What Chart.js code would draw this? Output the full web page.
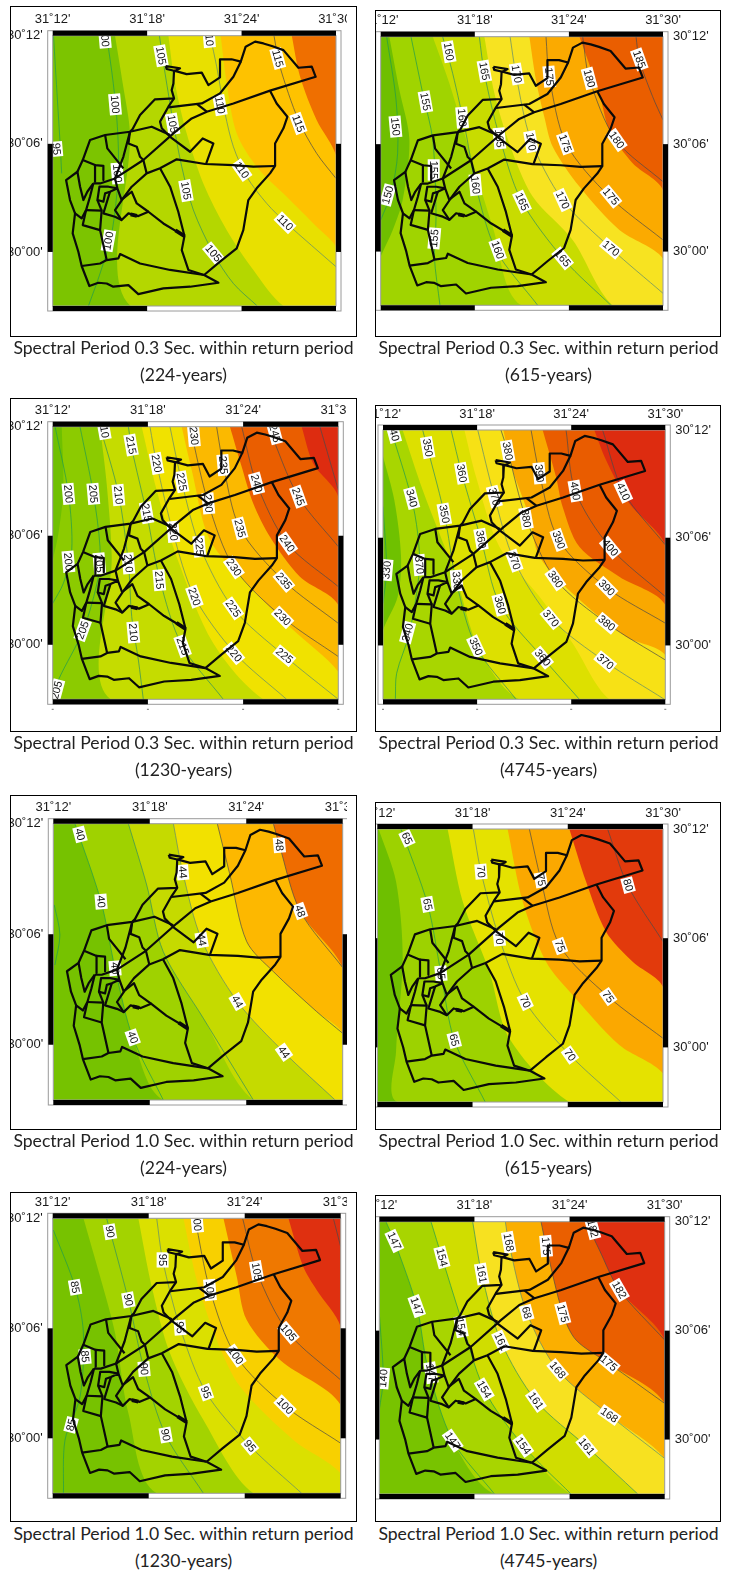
<!DOCTYPE html>
<html>
<head>
<meta charset="utf-8">
<title>Spectral period maps</title>
<script src="https://cdn.jsdelivr.net/npm/chart.js@4/dist/chart.umd.min.js"></script>
<style>
    html, body { margin: 0; padding: 0; background: #fff; }
    body { position: relative; width: 731px; height: 1572px; overflow: hidden; }
    .kotak { position: absolute; border: 1px solid #000; box-sizing: border-box; }
    canvas { position: absolute; filter: blur(0.45px); }
    .judul { position: absolute; width: 365px; text-align: center; font-family: Lato, sans-serif; font-size: 17.6px; color: #222; line-height: 20px; white-space: nowrap; }
</style>
</head>
<body>
<script>
// -------- AXIS --------
// longitude and latitude are minutes: x = minutes past 31 deg, y = minutes past 30 deg
const lonTicks = [12, 18, 24, 30];
const lonTickLabels = ["31˚12'", "31˚18'", "31˚24'", "31˚30'"];
const latTicks = [12, 6, 0];
const latTickLabels = ["30˚12'", "30˚06'", "30˚00'"];
const lonRange = [12, 30];
const latRange = [-3, 12];

// -------- DISTRICT OUTLINES (same for every map) --------
const districtLines = [
    [[19.18, 10.32], [20.09, 10.19], [19.77, 10.04], [19.24, 10.15], [19.18, 10.32]],
    [[19.71, 10.06], [20.51, 9.87], [21.47, 9.95], [21.89, 9.26], [22.63, 9.69], [22.63, 10.69], [23.37, 10.69], [23.95, 10.56], [24.26, 11.39], [24.86, 11.67], [25.39, 11.57], [25.92, 11.43], [26.66, 11.2], [27.61, 10.22], [28.46, 10.28], [28.71, 9.72], [25.81, 8.95], [23.48, 8.24], [21.79, 7.78], [20.83, 7.41], [19.67, 6.58], [17.76, 5.1], [15.96, 4.08], [15.01, 3.8], [14.58, 3.8]],
    [[19.71, 10.06], [19.67, 9.35], [19.56, 8.98], [19.71, 8.52], [18.5, 8.47], [17.55, 7.6], [17.08, 6.82], [16.91, 6.67]],
    [[19.71, 8.52], [19.35, 8.06], [18.82, 7.23], [18.93, 6.86], [19.46, 6.39], [20.73, 5.56], [21.53, 6.3], [22.21, 6.02], [21.74, 4.88]],
    [[23.95, 10.56], [23.48, 9.72], [22.63, 8.8], [21.47, 8.24], [19.35, 8.02]],
    [[21.15, 8.21], [21.79, 7.78]],
    [[25.81, 8.95], [26.23, 8.24], [26.91, 7.5], [26.66, 6.86], [26.13, 6.02], [26.13, 4.77], [25.81, 4.36], [24.96, 3.53], [24.43, 2.88], [24.11, 1.21], [23.69, 0.2], [22.63, -0.54], [21.62, -1.28]],
    [[26.13, 4.77], [24.75, 4.73], [23.48, 4.82], [21.68, 4.88], [19.88, 5.14], [18.82, 4.64], [17.97, 4.36], [17.02, 3.62], [16.45, 2.95], [15.96, 2.32], [16.38, 1.77], [16.81, 2.14], [17.44, 1.99], [18.08, 2.23], [19.03, 1.58], [20.37, 0.88]],
    [[16.45, 2.95], [17.02, 3.34], [17.34, 2.69], [18.08, 2.23]],
    [[18.82, 4.64], [19.46, 3.62], [19.98, 2.23], [20.37, 0.88], [20.2, 0.1], [20.62, -1.0], [21.62, -1.28]],
    [[21.62, -1.28], [22.53, -1.71], [20.73, -1.93], [19.03, -2.02], [17.44, -2.34], [16.81, -1.84], [15.85, -1.93], [15.43, -1.75], [14.9, -1.71], [14.33, -1.89], [13.84, -0.78], [13.63, 0.01], [13.27, 1.03], [13.42, 2.14], [13.84, 1.86], [14.12, 2.32], [14.37, 3.06], [14.58, 3.8]],
    [[13.84, -0.78], [15.01, -0.64], [15.43, -0.45], [16.17, -0.36], [16.28, -0.12], [17.55, -0.64], [19.46, -1.0], [21.62, -1.28]],
    [[13.42, 2.14], [13.1, 2.88], [12.85, 3.99], [13.57, 4.45], [13.74, 3.62], [13.95, 2.88], [14.2, 3.34], [14.58, 3.8]],
    [[13.57, 4.45], [13.91, 5.1], [14.37, 6.21], [15.33, 6.49], [16.91, 6.67], [18.29, 6.95], [19.46, 6.49]],
    [[13.91, 5.1], [14.69, 4.82], [15.22, 4.78], [15.22, 3.99]],
    [[14.69, 4.82], [14.69, 3.9]],
    [[15.33, 6.49], [15.47, 5.75], [16.49, 4.64]],
    [[16.91, 6.67], [16.49, 5.28], [15.96, 4.08]],
    [[16.91, 6.67], [16.81, 6.02], [17.34, 5.84], [17.55, 5.28], [17.76, 5.1], [17.97, 4.36]],
    [[15.96, 4.08], [16.11, 3.53], [15.54, 3.62], [14.97, 3.62], [14.84, 2.88], [15.22, 2.79], [15.33, 3.25], [15.64, 3.34], [16.11, 3.53], [16.38, 2.88]],
    [[14.12, 2.32], [15.11, 2.29], [15.01, 1.21], [15.43, -0.45]],
    [[14.12, 2.32], [13.91, 1.49], [15.01, 1.21]],
    [[14.84, 2.88], [15.11, 2.29]],
    [[15.64, 3.34], [15.22, 2.14], [15.96, 1.95], [16.38, 1.77]]
];
const districtThick = [
    [[16.95, 2.08], [17.35, 2.0]],
    [[19.8, 1.2], [20.37, 0.88]]
];

// -------- MAP 1: 0.3 Sec, 224 years --------
const p1BandColors = ["#7cc400", "#b4d700", "#e8e000", "#fec200", "#ef6f00"];
const p1BandEdges = [
    [[15.96, 12], [16.45, 9.35], [16.91, 6.58], [16.95, -3]],
    [[19.35, 12], [19.77, 9.35], [20.51, 6.58], [21.57, 3.8], [23.06, 1.21], [24.75, -1.0], [26.66, -3]],
    [[22.67, 12], [23.06, 9.35], [23.69, 6.58], [24.96, 4.73], [26.87, 3.06], [28.77, 1.4], [30, 0.29]],
    [[27.19, 12], [27.72, 9.72], [28.77, 7.32], [30, 5.38]]
];
const p1Lines = [
    [[12.05, 12], [12.3, 8.43], [12.47, 6.02], [12.57, 4.36]],
    [[15.43, 12], [15.85, 9.35], [16.11, 6.95], [16.17, 4.36], [15.75, 1.03], [15.01, -1.19], [14.27, -3]],
    [[18.78, 12], [19.14, 9.91], [19.67, 7.13], [20.2, 4.73], [20.94, 2.32], [22.21, -0.08], [23.48, -1.75], [25.0, -3]],
    [[22.0, 12], [22.42, 10.28], [22.95, 7.69], [23.48, 5.84], [24.33, 4.17], [25.6, 2.69], [26.87, 1.58], [30, -0.82]],
    [[26.06, 12], [26.44, 10.28], [27.61, 7.32], [28.77, 5.47], [30, 4.08]]
];
const p1LineColors = ["#1f9c4c", "#1f9c4c", "#2f8f5e", "#5c8a70", "#4a4a4a"];
const p1TagText = ["00", "10", "105", "115", "100", "110", "105", "115", "95", "110", "100", "105", "110", "100", "105"];
const p1TagPos = [[15.33, 11.72], [21.95, 11.76], [18.88, 10.89], [26.3, 10.74], [15.96, 8.19], [22.63, 8.15], [19.62, 7.1], [27.61, 7.13], [12.25, 5.71], [24.01, 4.54], [16.11, 4.36], [20.47, 3.4], [26.76, 1.62], [15.54, 0.62], [22.21, -0.08]];
const p1TagAngle = [85, 85, 80, 75, 85, 80, 80, 70, 85, 55, 85, 80, 45, -80, 50];

// -------- MAP 2: 0.3 Sec, 615 years --------
const p2BandColors = ["#6fbf00", "#a0d400", "#c8dc00", "#f7e321", "#fbaa00", "#ea5e00"];
const p2BandEdges = [
    [[12.55, 12], [13.19, 9.02], [13.83, 6.23], [13.4, 2.88], [12.77, 1.21], [12, -0.28]],
    [[15.32, 12], [16.38, 9.39], [17.65, 5.67], [19.14, 1.39], [20.95, -3]],
    [[18.61, 12], [19.25, 8.84], [20.2, 6.04], [21.69, 3.07], [24.24, 0.65], [26.79, -3]],
    [[21.48, 12], [21.9, 9.58], [22.43, 7.53], [22.97, 5.86], [24.67, 3.63], [27.22, 1.21], [30, -0.38]],
    [[24.67, 12], [25.94, 8.84], [26.58, 6.79], [28.07, 4.93], [30, 3.44]]
];
const p2Lines = [
    [[12.38, 12], [12.98, 8.46], [13.08, 5.49], [12.66, 3.25], [12, 1.76]],
    [[13.93, 12], [14.68, 8.84], [15.32, 6.23], [15.53, 1.95], [15.42, -0.28], [15.78, -3]],
    [[15.95, 12], [16.59, 9.95], [17.44, 6.6], [18.08, 3.63], [19.35, 0.09], [22.01, -3]],
    [[18.29, 12], [18.61, 9.95], [19.57, 6.42], [20.95, 2.88], [23.71, -0.47], [26.68, -3]],
    [[20.25, 12], [20.63, 9.86], [21.58, 6.23], [23.6, 2.88], [26.68, 0.18], [30, -2.33]],
    [[22.54, 12], [22.75, 9.77], [23.82, 6.04], [26.58, 3.07], [30, 0.65]],
    [[24.88, 12], [25.3, 9.67], [27.0, 6.23], [30, 3.9]],
    [[28.28, 12], [28.49, 10.7], [29.34, 8.65], [30, 7.35]]
];
const p2LineColors = ["#1f9c4c", "#1f9c4c", "#2f8f5e", "#2f8f5e", "#5c8a70", "#4a4a4a", "#4a4a4a", "#4a4a4a"];
const p2TagText = ["160", "165", "170", "175", "180", "185", "155", "160", "150", "165", "170", "175", "180", "155", "160", "150", "165", "170", "175", "155", "160", "165", "170"];
const p2TagPos = [[16.34, 11.16], [18.61, 10.08], [20.67, 9.92], [22.75, 9.77], [25.3, 9.67], [28.49, 10.73], [14.85, 8.37], [17.19, 7.48], [12.94, 6.98], [19.57, 6.32], [21.58, 6.14], [23.77, 6.04], [27.05, 6.23], [15.38, 4.56], [18.04, 3.72], [12.45, 3.16], [21.01, 2.79], [23.6, 2.88], [26.68, 3.07], [15.42, 0.74], [19.46, 0.09], [23.6, -0.38], [26.68, 0.18]];
const p2TagAngle = [80, 80, 80, 85, 75, 70, 80, 85, 85, 85, 80, 70, 55, 90, 85, -75, 65, 65, 50, -85, 70, 50, 40];

// -------- MAP 3: 0.3 Sec, 1230 years --------
const p3BandColors = ["#6fc000", "#8ccb00", "#c5dc00", "#f0e200", "#fbb900", "#ea5e00", "#dd2c10"];
const p3BandEdges = [
    [[12.57, 12], [12.67, 8.52], [12.36, 6.13], [12, 4.66]],
    [[14.98, 12], [15.4, 8.88], [15.72, 4.85], [15.65, -3]],
    [[17.61, 12], [18.55, 8.52], [19.81, 4.85], [22.12, 0.08], [25.27, -3]],
    [[20.13, 12], [20.76, 9.62], [21.91, 5.76], [24.43, 3.2], [27.16, 0.81], [30, -1.48]],
    [[23.17, 12], [23.91, 9.8], [24.64, 7.78], [25.69, 5.95], [27.58, 3.75], [30, 2.19]],
    [[27.69, 12], [28.42, 9.98], [30, 8.15]]
];
const p3Lines = [
    [[12.15, 12], [12.99, 8.33], [13.2, 5.21], [12.67, 3.38], [12, 2.28]],
    [[13.72, 12], [14.56, 8.33], [14.98, 5.4], [14.88, 3.75], [13.93, 0.81], [12.36, -1.94], [12.04, -3]],
    [[14.98, 12], [16.14, 8.33], [16.77, 4.48], [16.98, 1.55], [17.4, -0.84], [17.71, -3]],
    [[16.77, 12], [16.98, 10.81], [17.92, 7.23], [18.76, 3.56], [20.13, -0.01], [22.75, -3]],
    [[18.13, 12], [18.55, 9.98], [19.6, 6.13], [20.93, 2.65], [23.49, -0.47], [26.74, -3]],
    [[19.39, 12], [20.13, 8.97], [21.28, 5.4], [23.38, 2.0], [26.6, -0.6], [30, -3]],
    [[20.65, 12], [21.81, 7.78], [23.42, 4.26], [26.49, 1.51], [30, -0.65]],
    [[22.33, 12], [22.75, 9.89], [23.8, 6.41], [26.57, 3.51], [30, 1.18]],
    [[23.91, 12], [24.85, 8.88], [26.78, 5.58], [30, 3.2]],
    [[25.59, 12], [27.48, 8.15], [30, 5.4]],
    [[28.84, 12], [30, 8.52]]
];
const p3LineColors = ["#1f9c4c", "#1f9c4c", "#2f8f5e", "#2f8f5e", "#5c8a70", "#5c8a70", "#4a4a4a", "#4a4a4a", "#4a4a4a", "#4a4a4a", "#4a4a4a"];
const p3TagText = ["10", "215", "230", "245", "220", "235", "225", "240", "200", "205", "210", "245", "215", "230", "235", "220", "225", "240", "200", "205", "210", "230", "215", "235", "220", "225", "230", "210", "205", "215", "220", "225", "205"];
const p3TagPos = [[15.26, 11.72], [16.94, 10.99], [20.9, 11.5], [26.0, 11.63], [18.55, 9.98], [22.75, 9.89], [20.13, 8.97], [24.85, 8.88], [12.99, 8.3], [14.56, 8.3], [16.14, 8.24], [27.48, 8.15], [17.92, 7.27], [21.81, 7.78], [23.8, 6.41], [19.6, 6.22], [21.24, 5.4], [26.78, 5.58], [12.99, 4.57], [14.94, 4.48], [16.77, 4.48], [23.42, 4.26], [18.72, 3.56], [26.57, 3.51], [20.93, 2.65], [23.38, 2.0], [26.49, 1.51], [17.08, 0.68], [13.89, 0.81], [20.19, -0.07], [23.42, -0.47], [26.6, -0.6], [12.25, -2.49]];
const p3TagAngle = [80, 80, 85, 75, 80, 85, 80, 75, 85, 85, 85, 70, 80, 85, 75, 85, 85, 55, 85, 85, 85, 55, 85, 50, 70, 55, 45, 85, -70, 70, 50, 40, -75];

// -------- MAP 4: 0.3 Sec, 4745 years --------
const p4BandColors = ["#6fc100", "#a8d600", "#dde000", "#f7e115", "#f9a800", "#e95c00", "#dd2c10"];
const p4BandEdges = [
    [[12, 10.52], [12.72, 8.1], [13.15, 4.95], [12.94, 2.72], [12, 0.86]],
    [[13.25, 12], [14.53, 8.66], [16.65, 3.83], [18.14, -0.25], [20.69, -3]],
    [[17.19, 12], [17.93, 9.4], [19.42, 5.5], [21.97, 2.72], [24.09, 0.12], [26.43, -3]],
    [[19.67, 12], [20.27, 9.77], [21.33, 7.17], [21.97, 4.95], [24.3, 2.72], [27.49, 0.49], [30, -0.53]],
    [[22.18, 12], [23.03, 9.4], [23.45, 7.73], [24.52, 5.5], [27.07, 3.83], [30, 2.26]],
    [[25.47, 12], [26.22, 10.33], [27.7, 7.92], [30, 5.6]]
];
const p4Lines = [
    [[12, 7.73], [12.23, 4.2], [12, 2.35]],
    [[12.51, 12], [13.79, 8.29], [14.21, 6.25], [14.32, 4.2], [13.68, 0.68], [12.87, -1.55], [12.79, -3]],
    [[14.53, 12], [15.91, 7.32], [16.65, 3.65], [17.93, -0.06], [20.48, -3]],
    [[16.34, 12], [17.02, 9.59], [18.25, 5.91], [19.46, 2.26], [22.18, -0.68], [24.52, -3]],
    [[18.04, 12], [19.1, 8.29], [20.37, 4.72], [22.71, 1.51], [26.17, -0.9], [29.94, -3]],
    [[19.52, 12], [19.95, 10.83], [21.12, 7.08], [22.99, 3.69], [26.26, 1.24], [30, -0.81]],
    [[21.44, 12], [21.97, 9.59], [23.2, 5.88], [26.26, 3.22], [30, 1.24]],
    [[23.67, 12], [24.26, 8.6], [26.49, 5.45], [30, 2.72]],
    [[26, 12], [27.32, 8.57], [30, 5.6]]
];
const p4LineColors = ["#1f9c4c", "#1f9c4c", "#2f8f5e", "#2f8f5e", "#5c8a70", "#4a4a4a", "#4a4a4a", "#4a4a4a", "#4a4a4a"];
const p4TagText = ["40", "350", "380", "360", "390", "400", "410", "340", "370", "350", "380", "360", "390", "400", "370", "370", "330", "330", "380", "390", "360", "370", "380", "340", "350", "360", "370"];
const p4TagPos = [[12.72, 11.72], [14.85, 11.02], [19.95, 10.83], [17.02, 9.59], [21.97, 9.59], [24.26, 8.6], [27.32, 8.57], [13.83, 8.2], [19.1, 8.29], [15.91, 7.32], [21.12, 7.08], [18.25, 5.91], [23.2, 5.88], [26.49, 5.45], [20.37, 4.72], [14.32, 4.48], [12.23, 4.2], [16.7, 3.61], [22.99, 3.69], [26.26, 3.22], [19.46, 2.26], [22.71, 1.51], [26.26, 1.24], [13.57, 0.72], [17.93, -0.06], [22.18, -0.68], [26.17, -0.9]];
const p4TagAngle = [75, 80, 80, 80, 85, 80, 65, 75, 75, 80, 80, 80, 70, 50, 70, 85, -85, 85, 55, 45, 75, 50, 40, -75, 65, 50, 40];

// -------- MAP 5: 1.0 Sec, 224 years --------
const p5BandColors = ["#76c200", "#9fd200", "#c5da00", "#f2e100", "#fdb800", "#ef6c00"];
const p5BandEdges = [
    [[13.35, 12], [14.97, 7.77], [15.84, 4.15], [16.94, 0.4], [18.84, -3]],
    [[16.67, 12], [17.81, 8.67], [18.84, 5.05], [21.33, 1.44], [24.44, -3]],
    [[19.47, 12], [20.05, 9.36], [21.23, 5.69], [23.45, 2.34], [26.35, -0.41], [29.53, -3]],
    [[22.2, 12], [22.99, 9.21], [24.03, 5.6], [25.69, 3.97], [28.38, 1.8], [30, 0.62]],
    [[25.69, 12], [26.06, 10.84], [27.35, 7.26], [30, 4.19]]
];
const p5LeftLine = [[12.06, 7.59], [12.41, 5.96], [12.1, 4.33]];
const p5Lines = [p5LeftLine, ...p5BandEdges];
const p5LineColors = ["#1f9c4c", "#1f9c4c", "#2f8f5e", "#5c8a70", "#4a4a4a", "#4a4a4a"];
const p5TagText = ["40", "48", "44", "40", "48", "44", "40", "44", "40", "44"];
const p5TagPos = [[13.66, 11.42], [26.06, 10.84], [20.05, 9.36], [14.97, 7.77], [27.35, 7.26], [21.23, 5.69], [15.84, 4.15], [23.45, 2.34], [16.94, 0.4], [26.35, -0.41]];
const p5TagAngle = [75, 85, 85, 85, 70, 80, 85, 60, 70, 55];

// -------- MAP 6: 1.0 Sec, 615 years --------
const p6BandColors = ["#6ebf00", "#9dd200", "#e5e200", "#fba800", "#e23a0c"];
const p6BandEdges = [
    [[12.08, 12], [13.18, 9.11], [13.6, 4.89], [13.18, -0.24], [13.28, -3]],
    [[16.43, 12], [17.38, 8.01], [19.06, 4.16], [20.32, 0.5], [24.1, -3]],
    [[20.21, 12], [21.16, 8.01], [22.63, 4.71], [24.31, 2.88], [27.25, 0.13], [30, -1.43]],
    [[24.1, 12], [25.15, 9.11], [26.41, 6.36], [28.09, 4.71], [30, 3.33]]
];
const p6Lines = [
    [[13.49, 12], [15.17, 7.86], [16.01, 4.07], [16.85, 0.4], [18.8, -3]],
    [[18.05, 12], [18.53, 9.66], [19.69, 5.99], [21.32, 2.51], [24.14, -0.42], [27.35, -3]],
    [[21.58, 12], [22.31, 9.2], [23.51, 5.57], [26.55, 2.79], [30, 0.5]],
    [[26.51, 12], [27.77, 8.92], [30, 5.81]]
];
const p6LineColors = ["#1f9c4c", "#5c8a70", "#4a4a4a", "#4a4a4a"];
const p6TagText = ["65", "70", "75", "80", "65", "70", "75", "65", "70", "75", "65", "70"];
const p6TagPos = [[13.87, 11.49], [18.53, 9.66], [22.31, 9.2], [27.8, 8.92], [15.17, 7.86], [19.69, 5.99], [23.51, 5.57], [16.01, 4.07], [21.32, 2.51], [26.55, 2.79], [16.85, 0.4], [24.14, -0.42]];
const p6TagAngle = [65, 85, 80, 75, 80, 85, 70, 85, 65, 55, 75, 55];

// -------- MAP 7: 1.0 Sec, 1230 years --------
const p7BandColors = ["#77c200", "#a3d300", "#dbe000", "#f8d000", "#ef7800", "#df3010"];
const p7BandEdges = [
    [[13.92, 12], [14.96, 8.82], [15.9, 5.73], [16.73, 1.36], [18.5, -3]],
    [[17.35, 12], [18.19, 8.27], [19.33, 4.64], [21.42, 1.0], [24.54, -3]],
    [[20.17, 12], [21, 8.64], [22.25, 5.36], [23.71, 2.82], [27.04, -0.09], [30, -1.91]],
    [[22.67, 12], [23.5, 8.82], [24.12, 6.46], [26.21, 4.27], [30, 1.82]],
    [[26.73, 12], [27.66, 9.36], [28.5, 8.09], [30, 6.09]]
];
const p7Lines = [
    [[12.04, 11.36], [13.4, 8.24], [13.92, 5.73], [13.71, 2.27], [12.77, -0.09], [12.67, -3]],
    [[15.37, 12], [16.73, 7.55], [17.71, 3.78], [19.06, 0.18], [21.42, -3]],
    [[18.5, 12], [18.87, 9.73], [19.96, 6.04], [21.58, 2.51], [24.33, -0.42], [27.56, -3]],
    [[20.89, 12], [21.83, 8.09], [23.44, 4.51], [26.52, 1.76], [30, -0.27]],
    [[23.87, 12], [24.75, 9.09], [26.73, 5.76], [30, 3.18]],
    [[29.54, 12], [30, 10.45]]
];
const p7LineColors = ["#1f9c4c", "#2f8f5e", "#5c8a70", "#4a4a4a", "#4a4a4a", "#4a4a4a"];
const p7TagText = ["90", "00", "95", "105", "85", "90", "100", "95", "105", "100", "85", "90", "95", "100", "85", "90", "95"];
const p7TagPos = [[15.58, 11.27], [21.04, 11.64], [18.87, 9.73], [24.75, 9.09], [13.4, 8.24], [16.73, 7.55], [21.83, 8.09], [19.96, 6.04], [26.73, 5.76], [23.44, 4.51], [14.02, 4.46], [17.71, 3.78], [21.58, 2.51], [26.52, 1.76], [13.15, 0.73], [19.06, 0.18], [24.33, -0.42]];
const p7TagAngle = [80, 85, 90, 80, 80, 80, 85, 85, 50, 55, 85, 85, 70, 45, -75, 80, 50];

// -------- MAP 8: 1.0 Sec, 4745 years --------
const p8BandColors = ["#78c300", "#a8d500", "#d0dd00", "#f7e120", "#fbaf00", "#ea5f00", "#df3010"];
const p8BandEdges = [
    [[12.42, 12], [12.95, 10.94], [14.36, 7.35], [15.05, 4.01], [16.63, -0.06], [19.26, -3]],
    [[15.26, 12], [15.95, 10.04], [17.05, 6.95], [18.62, 2.76], [21.08, -0.34], [24.09, -3]],
    [[17.89, 12], [18.46, 9.12], [19.68, 5.39], [21.88, 2.14], [25.08, -0.39], [28.3, -3]],
    [[19.95, 12], [20.16, 10.86], [21.3, 6.99], [23.25, 3.83], [26.51, 1.35], [30, -1.04]],
    [[22.2, 12], [22.52, 10.66], [23.57, 6.95], [24.41, 5.48], [26.47, 4.2], [30, 1.99]],
    [[25.04, 12], [25.88, 10.44], [27.14, 8.24], [30, 5.48]]
];
const p8LeftLine = [[12, 6.95], [12.25, 3.37], [12, 1.63]];
const p8Lines = [p8LeftLine, ...p8BandEdges];
const p8LineColors = ["#1f9c4c", "#1f9c4c", "#1f9c4c", "#2f8f5e", "#5c8a70", "#4a4a4a", "#4a4a4a"];
const p8TagText = ["147", "154", "168", "175", "182", "161", "182", "147", "68", "175", "154", "161", "175", "168", "140", "154", "161", "168", "147", "154", "161", "147"];
const p8TagPos = [[12.95, 10.94], [15.95, 10.04], [20.16, 10.86], [22.52, 10.66], [25.46, 11.63], [18.46, 9.12], [27.14, 8.24], [14.36, 7.35], [21.3, 6.99], [23.57, 6.95], [17.15, 6.22], [19.68, 5.39], [26.47, 4.2], [23.25, 3.83], [12.25, 3.37], [18.62, 2.76], [21.88, 2.14], [26.51, 1.35], [16.63, -0.06], [21.08, -0.34], [25.08, -0.39], [15.26, 3.68]];
const p8TagAngle = [65, 75, 80, 85, 75, 80, 60, 70, 75, 75, 80, 65, 40, 50, -85, 60, 55, 35, 55, 55, 50, 80];

// -------- LAYOUT --------
// box = white frame, map = inner map rectangle, cap = y of caption lines
const panels = [
    { box: [10, 6, 356.5, 336.5], map: [52.7, 35.7, 336, 306], clipR: 347, side: "left", cap: [348, 375], line1: "0.3", line2: "(224-years)", colors: p1BandColors, edges: p1BandEdges, lines: p1Lines, lineColors: p1LineColors, tags: p1TagText, tagPos: p1TagPos, tagAngle: p1TagAngle },
    { box: [375, 10, 720.5, 336.5], map: [380.7, 36.7, 663, 305.3], clipR: 719, side: "right", cap: [348, 375], line1: "0.3", line2: "(615-years)", colors: p2BandColors, edges: p2BandEdges, lines: p2Lines, lineColors: p2LineColors, tags: p2TagText, tagPos: p2TagPos, tagAngle: p2TagAngle },
    { box: [10, 397.5, 356.5, 731.5], map: [52.7, 426.7, 338.3, 699.3], clipR: 347, side: "left", dots: true, cap: [743, 770], line1: "0.3", line2: "(1230-years)", colors: p3BandColors, edges: p3BandEdges, lines: p3Lines, lineColors: p3LineColors, tags: p3TagText, tagPos: p3TagPos, tagAngle: p3TagAngle },
    { box: [375, 405, 720.5, 731.5], map: [383, 430, 665.3, 699.3], clipR: 719, side: "right", dots: true, cap: [743, 770], line1: "0.3", line2: "(4745-years)", colors: p4BandColors, edges: p4BandEdges, lines: p4Lines, lineColors: p4LineColors, tags: p4TagText, tagPos: p4TagPos, tagAngle: p4TagAngle },
    { box: [10, 795, 356.5, 1129.5], map: [53.3, 823.7, 342.7, 1100], clipR: 347, side: "left", cap: [1141, 1168], line1: "1.0", line2: "(224-years)", colors: p5BandColors, edges: p5BandEdges, lines: p5Lines, lineColors: p5LineColors, tags: p5TagText, tagPos: p5TagPos, tagAngle: p5TagAngle },
    { box: [375, 802, 720.5, 1129.5], map: [377.3, 829, 663, 1102], clipR: 719, side: "right", cap: [1141, 1168], line1: "1.0", line2: "(615-years)", colors: p6BandColors, edges: p6BandEdges, lines: p6Lines, lineColors: p6LineColors, tags: p6TagText, tagPos: p6TagPos, tagAngle: p6TagAngle },
    { box: [10, 1191.5, 356.5, 1521.5], map: [52.7, 1218.3, 340.7, 1493.3], clipR: 347, side: "left", cap: [1534, 1561], line1: "1.0", line2: "(1230-years)", colors: p7BandColors, edges: p7BandEdges, lines: p7Lines, lineColors: p7LineColors, tags: p7TagText, tagPos: p7TagPos, tagAngle: p7TagAngle },
    { box: [375, 1195, 720.5, 1521.5], map: [379.3, 1221.7, 664.7, 1494], clipR: 719, side: "right", cap: [1534, 1561], line1: "1.0", line2: "(4745-years)", colors: p8BandColors, edges: p8BandEdges, lines: p8Lines, lineColors: p8LineColors, tags: p8TagText, tagPos: p8TagPos, tagAngle: p8TagAngle }
];

// -------- HELPERS --------
function toXY(list) {
    return list.map(p => ({ x: p[0], y: p[1] }));
}

// region east of a band edge, closed well outside the map so the clip trims it
function eastOf(edge) {
    const last = edge[edge.length - 1];
    const shape = edge.slice();
    if (last[0] <= 12) shape.push([9, -7]);
    shape.push([34, -7], [34, 16], [edge[0][0], 16]);
    return shape;
}

// map number labels, drawn between the contours and the district lines
const tagPlugin = {
    id: "tagPlugin",
    afterDatasetDraw(chart, args) {
        const ds = chart.data.datasets[args.index];
        if (!ds.tagText) return;
        const ctx = chart.ctx;
        const a = chart.chartArea;
        ctx.save();
        ctx.beginPath();
        ctx.rect(a.left, a.top, a.right - a.left, a.bottom - a.top);
        ctx.clip();
        ctx.font = "11px 'Liberation Sans'";
        ctx.textAlign = "center";
        ctx.textBaseline = "middle";
        args.meta.data.forEach((pt, i) => {
            const txt = ds.tagText[i];
            const w = ctx.measureText(txt).width + 3;
            ctx.save();
            ctx.translate(pt.x, pt.y);
            ctx.rotate(ds.tagAngle[i] * Math.PI / 180);
            ctx.fillStyle = "#fff";
            ctx.fillRect(-w / 2, -6, w, 12);
            ctx.fillStyle = "#111";
            ctx.fillText(txt, 0, 0.5);
            ctx.restore();
        });
        ctx.restore();
    }
};

// checkered map frame, cut at the axis ticks
const framePlugin = {
    id: "framePlugin",
    afterDraw(chart) {
        const ctx = chart.ctx;
        const a = chart.chartArea;
        const th = 5;
        const xs = lonTicks.map(v => chart.scales.x.getPixelForValue(v));
        const ys = [...latTicks, latRange[0]].map(v => chart.scales.y.getPixelForValue(v));
        ctx.save();
        ctx.fillStyle = "#fff";
        ctx.fillRect(a.left - th, a.top - th, a.right - a.left + 2 * th, th);
        ctx.fillRect(a.left - th, a.bottom, a.right - a.left + 2 * th, th);
        ctx.fillRect(a.left - th, a.top, th, a.bottom - a.top);
        ctx.fillRect(a.right, a.top, th, a.bottom - a.top);
        ctx.strokeStyle = "#9a9a9a";
        ctx.lineWidth = 1;
        ctx.strokeRect(a.left - th, a.top - th, a.right - a.left + 2 * th, a.bottom - a.top + 2 * th);
        ctx.strokeRect(a.left, a.top, a.right - a.left, a.bottom - a.top);
        ctx.fillStyle = "#000";
        for (let i = 0; i < xs.length - 1; i += 2) {
            ctx.fillRect(xs[i], a.top - th, xs[i + 1] - xs[i], th);
            ctx.fillRect(xs[i], a.bottom, xs[i + 1] - xs[i], th);
        }
        for (let i = 1; i < ys.length - 1; i += 2) {
            ctx.fillRect(a.left - th, ys[i], th, ys[i + 1] - ys[i]);
            ctx.fillRect(a.right, ys[i], th, ys[i + 1] - ys[i]);
        }
        if (chart.options.plugins.framePlugin.dots) {
            ctx.fillStyle = "#777";
            xs.forEach(x => ctx.fillRect(x - 1, a.bottom + 9.5, 2, 1));
        }
        ctx.restore();
    }
};

// -------- BUILD --------
panels.forEach(p => {
    const [bl, bt, br, bb] = p.box;
    const [ml, mt, mr, mb] = p.map;

    const kotak = document.createElement("div");
    kotak.className = "kotak";
    kotak.style.cssText = `left:${bl}px;top:${bt}px;width:${br - bl}px;height:${bb - bt}px`;
    document.body.appendChild(kotak);

    const cl = bl + 1;
    const ct = Math.round(bt + 1);
    const cw = Math.round(p.clipR - cl);
    const ch = Math.round(bb - 1 - ct);
    const canvas = document.createElement("canvas");
    canvas.width = cw;
    canvas.height = ch;
    canvas.style.cssText = `left:${cl}px;top:${ct}px;width:${cw}px;height:${ch}px`;
    document.body.appendChild(canvas);

    let datasets = [];
    [[[9, 16], [9, -7]], ...p.edges].forEach((edge, i) => {
        datasets.push({
            data: toXY(eastOf(edge)),
            showLine: true, pointRadius: 0, borderWidth: 0,
            backgroundColor: p.colors[i], fill: "shape",
            tension: i === 0 ? 0 : 0.3, capBezierPoints: false
        });
    });
    p.lines.forEach((line, i) => {
        datasets.push({
            data: toXY(line),
            showLine: true, pointRadius: 0, borderWidth: 0.7,
            borderColor: p.lineColors[i], fill: false,
            tension: 0.3, capBezierPoints: false
        });
    });
    datasets.push({
        data: toXY(p.tagPos), showLine: false, pointRadius: 0,
        tagText: p.tags, tagAngle: p.tagAngle
    });
    districtLines.forEach(line => {
        datasets.push({
            data: toXY(line), showLine: true, pointRadius: 0,
            borderWidth: 2.2, borderColor: "#0a0a0a", fill: false, tension: 0, borderJoinStyle: "round"
        });
    });
    districtThick.forEach(line => {
        datasets.push({
            data: toXY(line), showLine: true, pointRadius: 0,
            borderWidth: 3.8, borderColor: "#0a0a0a", fill: false, tension: 0
        });
    });
    // chart.js paints the last dataset first
    datasets = datasets.reverse();

    const tickFont = { family: "'Liberation Sans'", size: 13 };
    new Chart(canvas, {
        type: "scatter",
        data: { datasets },
        plugins: [tagPlugin, framePlugin],
        options: {
            responsive: false,
            animation: false,
            layout: {
                padding: {
                    left: p.side === "left" ? 0 : ml - cl,
                    right: p.side === "left" ? cl + cw - mr : 0,
                    top: 0,
                    bottom: ct + ch - mb
                }
            },
            plugins: {
                legend: { display: false },
                tooltip: { enabled: false },
                framePlugin: { dots: !!p.dots }
            },
            scales: {
                x: {
                    type: "linear", position: "top",
                    min: lonRange[0], max: lonRange[1],
                    grid: { display: false, drawTicks: false }, border: { display: false },
                    afterBuildTicks: s => { s.ticks = lonTicks.map(v => ({ value: v })); },
                    afterFit: s => {
                        s.height = mt - ct;
                        s.paddingLeft = s.paddingRight = s.paddingTop = s.paddingBottom = 0;
                    },
                    ticks: {
                        autoSkip: false, maxRotation: 0, minRotation: 0, padding: 8,
                        color: "#1a1a1a", font: tickFont,
                        callback: (v, i) => lonTickLabels[i]
                    }
                },
                y: {
                    type: "linear", position: p.side,
                    min: latRange[0], max: latRange[1],
                    grid: { display: false, drawTicks: false }, border: { display: false },
                    afterBuildTicks: s => { s.ticks = latTicks.slice().reverse().map(v => ({ value: v })); },
                    afterFit: s => {
                        s.width = p.side === "left" ? ml - cl : cl + cw - mr;
                        s.paddingLeft = s.paddingRight = s.paddingTop = s.paddingBottom = 0;
                    },
                    ticks: {
                        autoSkip: false, padding: 10,
                        color: "#1a1a1a", font: tickFont,
                        callback: (v, i) => latTickLabels[latTicks.length - 1 - i]
                    }
                }
            }
        }
    });

    const center = p.side === "left" ? 183.5 : 548.5;
    [`Spectral Period ${p.line1} Sec. within return period`, p.line2].forEach((txt, i) => {
        const judul = document.createElement("div");
        judul.className = "judul";
        judul.textContent = txt;
        judul.style.left = (center - 182.5) + "px";
        judul.style.top = (p.cap[i] - 10) + "px";
        document.body.appendChild(judul);
    });
});
</script>
</body>
</html>
